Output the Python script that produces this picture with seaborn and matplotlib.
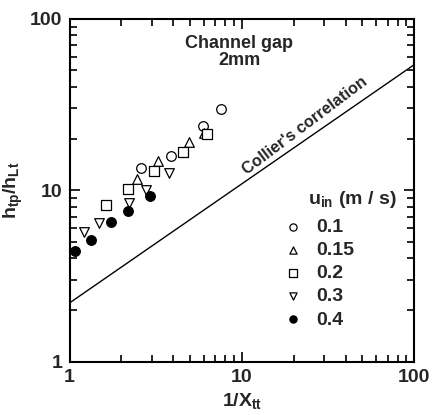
import matplotlib
matplotlib.use("Agg")
import matplotlib.pyplot as plt
import matplotlib.transforms as mtransforms
import seaborn as sns
import numpy as np
from matplotlib.ticker import LogLocator, NullFormatter, FixedLocator, FixedFormatter

sns.set_style("ticks")
plt.rcParams['font.family'] = ['Liberation Sans', 'DejaVu Sans']
plt.rcParams['mathtext.fontset'] = 'custom'
plt.rcParams['mathtext.rm'] = 'Liberation Sans:bold'
plt.rcParams['mathtext.it'] = 'Liberation Sans:bold'
plt.rcParams['mathtext.bf'] = 'Liberation Sans:bold'

# data
labels = ["0.1", "0.15", "0.2", "0.3", "0.4"]
x_01 = [2.60, 3.88, 5.98, 7.54]
y_01 = [13.5, 15.8, 23.7, 29.8]
x_015 = [2.47, 3.25, 4.92, 6.03]
y_015 = [11.6, 14.8, 19.2, 21.5]
x_02 = [1.63, 2.19, 3.11, 4.56, 6.28]
y_02 = [8.2, 10.2, 12.9, 16.6, 21.3]
x_03 = [1.22, 1.49, 2.21, 2.78, 3.78]
y_03 = [5.73, 6.44, 8.39, 10.0, 12.6]
x_04 = [1.07, 1.34, 1.74, 2.19, 2.92]
y_04 = [4.42, 5.12, 6.50, 7.60, 9.29]
collier_x = [1, 100]
collier_y = [2.2, 54]

series = [(x_01, y_01), (x_015, y_015), (x_02, y_02), (x_03, y_03), (x_04, y_04)]
markers = ["o", "^", "s", "v", "o"]
faces = ["white", "white", "white", "white", "black"]

fig = plt.figure(figsize=(4.32, 4.15), dpi=100)
ax = fig.add_axes([69.5/432, 1 - 361.7/415, (414.3-69.5)/432, (361.7-18.7)/415])

sns.lineplot(x=collier_x, y=collier_y, ax=ax, color="black", lw=1.0)
for (xs, ys), m, fc, lab in zip(series, markers, faces, labels):
    sns.scatterplot(x=xs, y=ys, ax=ax, marker=m, s=48, facecolor=fc,
                    edgecolor="black", linewidth=0.9, label=lab, zorder=3)

ax.set_xscale("log")
ax.set_yscale("log")
ax.set_xlim(1, 100)
ax.set_ylim(1, 100)

ax.xaxis.set_major_locator(FixedLocator([1, 10, 100]))
ax.xaxis.set_major_formatter(FixedFormatter(["1", "10", "100"]))
ax.yaxis.set_major_locator(FixedLocator([1, 10, 100]))
ax.yaxis.set_major_formatter(FixedFormatter(["1", "10", "100"]))
ax.xaxis.set_minor_locator(LogLocator(base=10, subs=np.arange(2, 10)))
ax.yaxis.set_minor_locator(LogLocator(base=10, subs=np.arange(2, 10)))
ax.xaxis.set_minor_formatter(NullFormatter())
ax.yaxis.set_minor_formatter(NullFormatter())
ax.tick_params(which="both", direction="in", top=True, right=True, width=1.2, color="black")
ax.tick_params(which="major", length=7, labelsize=14, pad=5)
ax.tick_params(which="minor", length=5)
for lbl in ax.get_xticklabels() + ax.get_yticklabels():
    lbl.set_fontweight("bold")
for sp in ax.spines.values():
    sp.set_linewidth(1.5)
    sp.set_color("black")

ax.set_xlabel(r"1/X$_{\mathregular{tt}}$", fontsize=14, fontweight="bold", labelpad=4)
ax.set_ylabel(r"h$_{\mathregular{tp}}$/h$_{\mathregular{Lt}}$", fontsize=14, fontweight="bold", labelpad=4)

ax.text(9.63, 63.9, "Channel gap\n2mm", ha="center", va="center", fontsize=13,
        fontweight="bold", linespacing=1.05)

# label placed along the correlation line, shifted perpendicular above it
ang = 37
cx = 25.5
cy = collier_y[0] * cx ** (np.log10(collier_y[1] / collier_y[0]) / 2)
off = mtransforms.offset_copy(ax.transData, fig=fig,
                              x=-np.sin(np.radians(ang)) * 3,
                              y=np.cos(np.radians(ang)) * 3, units="points")
ax.text(cx, cy, "Collier's correlation", ha="center", va="bottom", fontsize=11.7,
        fontweight="bold", rotation=ang, rotation_mode="anchor", transform=off)

ax.text(24.2, 8.77, r"u$_{\mathregular{in}}$ (m / s)", ha="left", va="center",
        fontsize=14, fontweight="bold")

leg = ax.legend(frameon=False, loc="upper left",
                bbox_to_anchor=(0.620, 0.417), fontsize=14,
                handlelength=1.0, handletextpad=0.69, labelspacing=0.28,
                markerscale=0.75, borderaxespad=0, borderpad=0)
for t in leg.get_texts():
    t.set_fontweight("bold")

fig.savefig("out.png", dpi=100)
